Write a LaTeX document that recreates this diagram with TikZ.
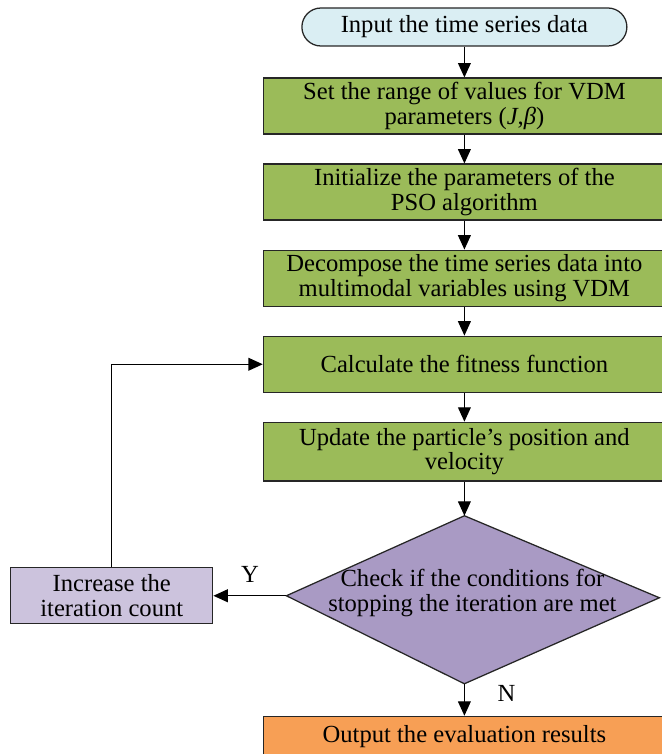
\documentclass[tikz,border=0pt]{standalone}
\usepackage{fontspec}
\setmainfont{Liberation Serif}
\usetikzlibrary{positioning, arrows.meta}
\definecolor{startblue}{HTML}{DAEEF3}
\definecolor{stepgreen}{HTML}{9BBB59}
\definecolor{checkpurple}{HTML}{A99AC4}
\definecolor{incpurple}{HTML}{CCC3DD}
\definecolor{outorange}{HTML}{F79F55}
\tikzset{
>={Triangle[length=0.36cm,width=0.32cm]}, % big black arrow heads
node distance=0.72cm, % gap between the boxes
every node/.style={font=\fontsize{17.5}{17.5}\selectfont, align=center},
startbox/.style={draw=black!85, fill=startblue, rounded corners=0.475cm, minimum width=8.125cm, minimum height=0.95cm, inner sep=0pt},
stepbox/.style={draw=black!85, fill=stepgreen, minimum width=10.05cm, minimum height=1.4cm, inner sep=0pt},
incbox/.style={draw=black!85, fill=incpurple, minimum width=5.05cm, minimum height=1.4cm, inner sep=0pt},
outbox/.style={draw=black!85, fill=outorange, minimum width=10.05cm, minimum height=1.0cm, inner sep=0pt},
}

\begin{document}
\begin{tikzpicture}[line width=0.9pt]
        \useasboundingbox (0,0) rectangle (16.55,-18.85);
        \clip (0,0) rectangle (16.55,-18.85);
        \node[startbox] (input) at (11.61,-0.675) {Input the time series data};
        \node[stepbox, below=0.77cm of input] (range) {Set the range of values for VDM\\parameters (\textit{J},\textit{β})};
        \node[stepbox, below=of range] (init) {Initialize the parameters of the\\PSO algorithm};
        \node[stepbox, below=of init] (decomp) {Decompose the time series data into\\multimodal variables using VDM};
        \node[stepbox, below=of decomp] (fitness) {Calculate the fitness function};
        \node[stepbox, minimum height=1.47cm, below=of fitness] (update) {Update the particle’s position and\\velocity};
        % the check diamond
        \coordinate[below=0.85cm of update] (ctop);
        \path (ctop) ++(-4.45,-2.0) coordinate (cleft)
              (ctop) ++(4.875,-2.05) coordinate (cright)
              (ctop) ++(0,-4.2) coordinate (cbot);
        \filldraw[draw=black!85, fill=checkpurple] (ctop) -- (cright) -- (cbot) -- (cleft) -- cycle;
        \path (ctop) ++(0.2,-1.925) node (check) {Check if the conditions for\\stopping the iteration are met};
        \node[incbox, left=1.825cm of cleft] (inc) {Increase the\\iteration count};
        \node[outbox, below=0.8cm of cbot] (out) {Output the evaluation results};
        \draw[->] (input) edge (range)
        (range) edge (init)
        (init) edge (decomp)
        (decomp) edge (fitness)
        (fitness) edge (update)
        (update) edge (ctop)
        (cleft) edge node[above=0.2cm]{Y} (inc)
        (cbot) edge node[right=0.7cm, pos=0.3]{N} (out)
        (inc.north) |- (fitness.west);
\end{tikzpicture}
\end{document}
